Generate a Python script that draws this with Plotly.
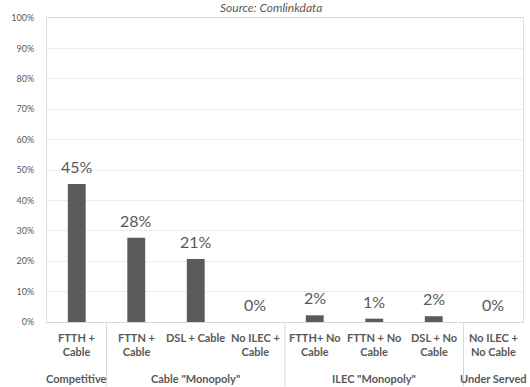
import plotly.graph_objects as go

categories = ["FTTH +<br>Cable", "FTTN +<br>Cable", "DSL + Cable", "No ILEC +<br>Cable",
              "FTTH+ No<br>Cable", "FTTN + No<br>Cable", "DSL + No<br>Cable", "No ILEC +<br>No Cable"]
values = [0.454, 0.277, 0.207, 0.0, 0.022, 0.011, 0.019, 0.0]
value_labels = ["45%", "28%", "21%", "0%", "2%", "1%", "2%", "0%"]
groups = ["Competitive", "Cable \"Monopoly\"", "ILEC \"Monopoly\"", "Under Served"]
group_spans = [(0, 0), (1, 3), (4, 6), (7, 7)]
y_ticks = [i / 10 for i in range(11)]

W, H = 530, 387
L, R, T, B = 47, 7, 18, 65
plot_h = H - T - B
FONT = "Lato, 'Open Sans', sans-serif"
GRAY = "#595959"

def py(ypix):
    return (H - B - ypix) / plot_h

x = list(range(len(categories)))
fig = go.Figure()
fig.add_trace(go.Bar(
    x=x, y=values, width=0.3, marker=dict(color="#5b5b5b", line=dict(width=0)),
    hoverinfo="skip",
))

annotations = []
for i, (v, t) in enumerate(zip(values, value_labels)):
    annotations.append(dict(x=i, y=v, xref="x", yref="y", text=t, showarrow=False,
                            yanchor="bottom", xanchor="center", yshift=6,
                            font=dict(size=16, color=GRAY, family=FONT)))
for i, c in enumerate(categories):
    annotations.append(dict(x=i, y=py(329), xref="x", yref="paper", text="<b>" + c + "</b>",
                            showarrow=False, yanchor="top", xanchor="center",
                            font=dict(size=11, color=GRAY, family=FONT)))
for g, (a, b) in zip(groups, group_spans):
    annotations.append(dict(x=(a + b) / 2, y=py(378), xref="x", yref="paper", text="<b>" + g + "</b>",
                            showarrow=False, yanchor="middle", xanchor="center",
                            font=dict(size=11, color=GRAY, family=FONT)))
annotations.append(dict(x=0.47, y=py(8), xref="paper", yref="paper", text="<i>Source: Comlinkdata</i>",
                        showarrow=False, yanchor="middle", xanchor="center",
                        font=dict(size=12, color=GRAY, family=FONT)))

shapes = []
for sx in [0.5, 3.5, 6.5]:
    shapes.append(dict(type="line", xref="x", yref="paper", x0=sx, x1=sx, y0=0, y1=py(386),
                       line=dict(color="#d9d9d9", width=1)))

fig.update_layout(
    width=W, height=H, margin=dict(l=L, r=R, t=T, b=B),
    paper_bgcolor="white", plot_bgcolor="white", showlegend=False,
    annotations=annotations, shapes=shapes,
    xaxis=dict(range=[-0.5, 7.5], showticklabels=False, showgrid=False, zeroline=False,
               showline=True, linecolor="#d9d9d9", mirror=True, ticks=""),
    yaxis=dict(range=[0, 1], tickvals=y_ticks, tickformat=".0%", showgrid=True, gridcolor="#ececec",
               zeroline=False, showline=True, linecolor="#e0e0e0", mirror=True,
               tickfont=dict(size=9, color=GRAY, family=FONT), ticks="", ticklabelstandoff=10),
    font=dict(family=FONT),
)
fig.write_html("out.html")
